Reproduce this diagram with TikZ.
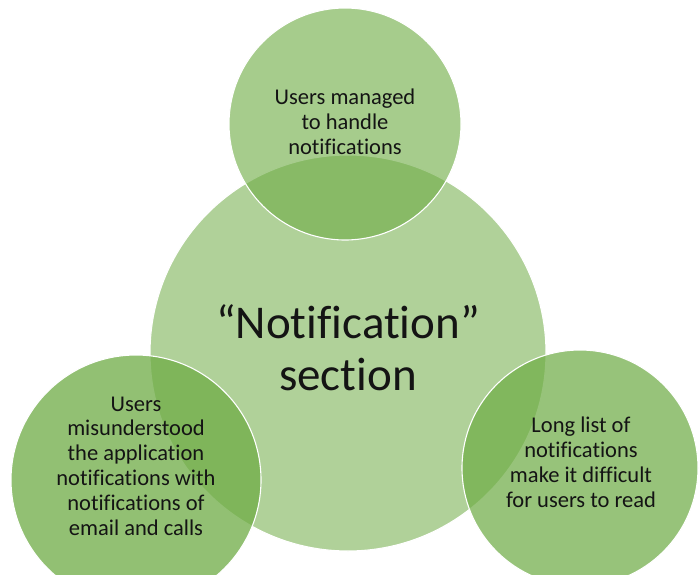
\documentclass[tikz,border=0pt]{standalone}
\usepackage{fontspec}
\setmainfont{Carlito}[Ligatures=NoCommon]
\usepackage{tikz}
\definecolor{leaf}{RGB}{112,173,71}
\definecolor{ink}{RGB}{20,20,20}

\tikzset{
  bubble/.style={fill=leaf,draw=white,line width=1.1pt},
  hubfont/.style={font=\fontsize{47}{52}\selectfont,text=ink,align=center,anchor=base},
  satfont/.style={font=\fontsize{22.5}{24.8}\selectfont,text=ink,align=center,anchor=base}
}

\begin{document}
\begin{tikzpicture}[x=1pt,y=-1pt]
    \useasboundingbox[fill=white] (0,0) rectangle (699,574);
    \clip (0,0) rectangle (699,574);

    % central section
    \filldraw[bubble,fill opacity=.55] (348,353) circle (198pt);
    % the three findings around it
    \filldraw[bubble,fill opacity=.62] (345,124) circle (116pt);
    \filldraw[bubble,fill opacity=.76] (136,480) circle (125pt);
    \filldraw[bubble,fill opacity=.72] (580,468) circle (118pt);

    % text nodes sit on the baseline of their last line
    \node[hubfont] (hub) at (348,390) {“Notification”\\section};
    \node[satfont] (handled) at (345,154) {Users managed\\to handle\\notifications};
    \node[satfont] (confused) at (136,535) {Users\\misunderstood\\the application\\notifications with\\notifications of\\email and calls};
    \node[satfont] (longlist) at (581,507) {Long list of\\notifications\\make it difficult\\for users to read};
\end{tikzpicture}
\end{document}
